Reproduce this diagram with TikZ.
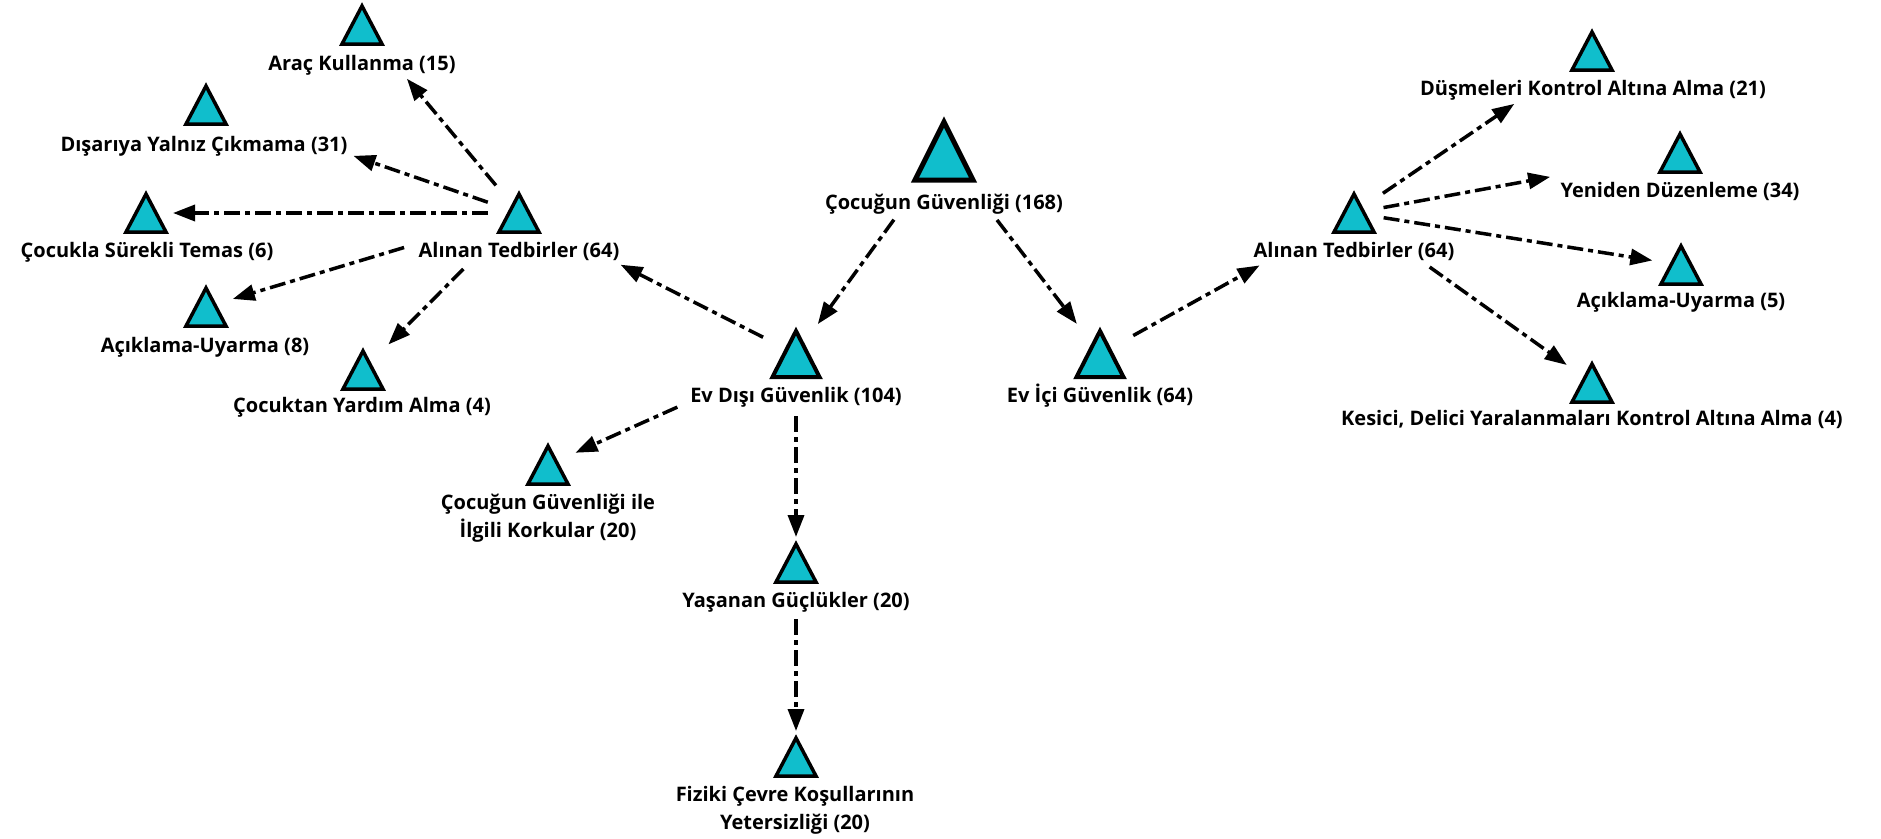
\documentclass[tikz,border=0pt]{standalone}
\usepackage{fontspec}
\setmainfont{Open Sans}
\usetikzlibrary{arrows.meta}
\definecolor{tricyan}{RGB}{16,190,204}

% #1 name, #2 centre, #3 half width, #4 height, #5 border width
\newcommand\trinode[5]{%
  \node[inner sep=0pt, outer sep=0pt, minimum width=2*#3, minimum height=#4] (#1) at (#2) {};
  \filldraw[fill=tricyan, draw=black, line width=#5, line join=miter]
    (#1.north) -- (#1.south west) -- (#1.south east) -- cycle;
}

\begin{document}
\begin{tikzpicture}[x=1pt, y=-1pt,
  lbl/.style={font=\bfseries\fontsize{20}{28}\selectfont, align=center,
    inner sep=0pt, text height=14pt, text depth=0pt, anchor=north},
  lbltwo/.style={lbl, text height=42pt},
  link/.style={line width=3.5pt, dash pattern=on 16pt off 5pt on 5pt off 5pt,
    -{Triangle[length=22pt, width=16pt]}}
]
\useasboundingbox[fill=white] (0,0) rectangle (1881,838);

% triangles
\trinode{top}{944,151}{29}{58}{5}
\trinode{evdisi}{796,354}{23.5}{46}{4}
\trinode{evici}{1100,354}{23.5}{46}{4}
\trinode{tedL}{519,213}{20}{38}{3.5}
\trinode{arac}{362,25}{20}{38}{3.5}
\trinode{disari}{206,105}{20}{38}{3.5}
\trinode{temas}{146,213}{20}{38}{3.5}
\trinode{aciklamaL}{206,307}{20}{38}{3.5}
\trinode{yardim}{363,370}{20}{38}{3.5}
\trinode{korku}{548,465}{20}{38}{3.5}
\trinode{gucluk}{796,563}{20}{38}{3.5}
\trinode{fiziki}{796,757}{20}{38}{3.5}
\trinode{tedR}{1354,213}{20}{38}{3.5}
\trinode{dusme}{1592,51}{20}{38}{3.5}
\trinode{duzen}{1680,153}{20}{38}{3.5}
\trinode{aciklamaR}{1681,265}{20}{38}{3.5}
\trinode{kesici}{1592,383}{20}{38}{3.5}

% labels
\node[lbl] (topl) at (944,195) {Çocuğun Güvenliği (168)};
\node[lbl] (evdisil) at (796,388) {Ev Dışı Güvenlik (104)};
\node[lbl] (evicil) at (1100,388) {Ev İçi Güvenlik (64)};
\node[lbl] (tedLl) at (519,243) {Alınan Tedbirler (64)};
\node[lbl] (aracl) at (362,56) {Araç Kullanma (15)};
\node[lbl] (disaril) at (204,137) {Dışarıya Yalnız Çıkmama (31)};
\node[lbl] (temasl) at (147,243) {Çocukla Sürekli Temas (6)};
\node[lbl] (aciklamaLl) at (205,338) {Açıklama-Uyarma (8)};
\node[lbl] (yardiml) at (362,398) {Çocuktan Yardım Alma (4)};
\node[lbltwo] (korkul) at (548,495) {Çocuğun Güvenliği ile\\İlgili Korkular (20)};
\node[lbl] (guclukl) at (796,593) {Yaşanan Güçlükler (20)};
\node[lbltwo] (fizikil) at (795,787) {Fiziki Çevre Koşullarının\\Yetersizliği (20)};
\node[lbl] (tedRl) at (1354,243) {Alınan Tedbirler (64)};
\node[lbl] (dusmel) at (1593,81) {Düşmeleri Kontrol Altına Alma (21)};
\node[lbl] (duzenl) at (1680,183) {Yeniden Düzenleme (34)};
\node[lbl] (aciklamaRl) at (1681,293) {Açıklama-Uyarma (5)};
\node[lbl] (kesicil) at (1592,411) {Kesici, Delici Yaralanmaları Kontrol Altına Alma (4)};

% connectors
\draw[link, shorten <=85pt, shorten >=37pt] (top.center) -- (evdisi.center);
\draw[link, shorten <=87pt, shorten >=38pt] (top.center) -- (evici.center);
\draw[link, shorten <=37pt, shorten >=114pt] (evdisi.center) -- (tedL.center);
\draw[link, shorten <=38pt, shorten >=108pt] (evici.center) -- (tedR.center);
\draw[link, shorten <=130pt, shorten >=30pt] (evdisi.center) -- (korku.center);
\draw[link, shorten <=62pt, shorten >=26pt] (evdisi.center) -- (gucluk.center);
\draw[link, shorten <=56pt, shorten >=26pt] (gucluk.center) -- (fiziki.center);

\draw[link, shorten <=36pt, shorten >=70pt] (tedL.center) -- (arac.center);
\draw[link, shorten <=33pt, shorten >=156pt] (tedL.center) -- (disari.center);
\draw[link, shorten <=31pt, shorten >=27pt] (tedL.center) -- (temas.center);
\draw[link, shorten <=120pt, shorten >=28pt] (tedL.center) -- (aciklamaL.center);
\draw[link, shorten <=79pt, shorten >=36pt] (tedL.center) -- (yardim.center);

\draw[link, shorten <=35pt, shorten >=94pt] (tedR.center) -- (dusme.center);
\draw[link, shorten <=30pt, shorten >=132pt] (tedR.center) -- (duzen.center);
\draw[link, shorten <=30pt, shorten >=29pt] (tedR.center) -- (aciklamaR.center);
\draw[link, shorten <=93pt, shorten >=31pt] (tedR.center) -- (kesici.center);
\end{tikzpicture}
\end{document}
